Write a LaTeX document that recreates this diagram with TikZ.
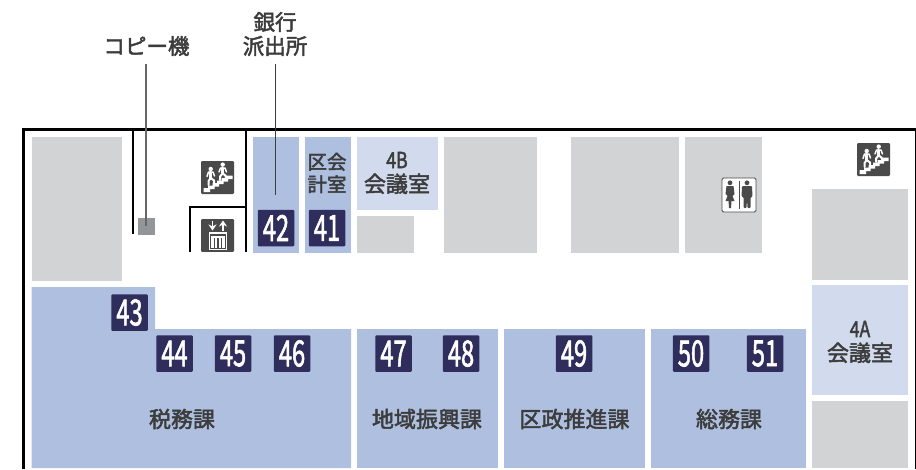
\documentclass[tikz,border=0pt]{standalone}
\usepackage{fontspec}
\setmainfont{Noto Sans CJK JP}[FakeBold=2.2]
\newfontfamily\digitfont{Noto Sans CJK JP}[FakeBold=2]
\definecolor{roomblue}{HTML}{AEBFE0}
\definecolor{roomlight}{HTML}{D2DBEE}
\definecolor{roomgrey}{HTML}{D1D3D5}
\definecolor{badgeblue}{HTML}{2E2D5C}
\definecolor{inktext}{HTML}{3C3C3C}
\definecolor{iconink}{HTML}{4A4A4A}
\definecolor{copygrey}{HTML}{939598}
\usetikzlibrary{arrows.meta}
\tikzset{
  blue room/.style={fill=roomblue,draw=none},
  light room/.style={fill=roomlight,draw=none},
  grey room/.style={fill=roomgrey,draw=none},
  wall/.style={draw=black,line width=1.6pt},
  outer wall/.style={draw=black,line width=3pt},
  badge/.style={fill=badgeblue,rounded corners=1pt,minimum width=36.5pt,minimum height=36.5pt,inner sep=0pt,text=white,font=\digitfont\fontsize{36}{36}\selectfont},
  roomlabel/.style={text=inktext,inner sep=0pt,align=center,font=\fontsize{22}{24}\selectfont},
  pics/stairicon/.style={code={
    \fill[iconink,rounded corners=1.2pt] (0,0) rectangle (33,33);
    \fill[white] (2.5,31) -- (2.5,27) -- (7,27) -- (7,24.5) -- (11.5,24.5) -- (11.5,22) -- (16,22) -- (16,19.5) -- (20.5,19.5) -- (20.5,17) -- (25,17) -- (25,14.5) -- (31.5,14.5) -- (31.5,18) -- (27,18) -- (27,20.5) -- (22.5,20.5) -- (22.5,23) -- (18,23) -- (18,25.5) -- (13.5,25.5) -- (13.5,28) -- (9,28) -- (9,31) -- cycle;
    \fill[white] (9.7,8) circle (2.2);
    \fill[white] (21.7,3.6) circle (2.2);
    \draw[white,line width=1.5pt,line cap=round,line join=round] (6,15.5) -- (7.5,11) -- (12,11) -- (13.5,15);
    \draw[white,line width=3pt,line cap=round,line join=round] (9.7,11) -- (9.7,17);
    \draw[white,line width=2pt,line cap=round,line join=round] (9.7,17) -- (7.5,20) -- (7.5,24);
    \draw[white,line width=2pt,line cap=round,line join=round] (9.7,17) -- (13,19.5) -- (13,21.5);
    \draw[white,line width=1.5pt,line cap=round,line join=round] (18,11) -- (19.5,7) -- (24,7) -- (25.5,11);
    \draw[white,line width=3pt,line cap=round,line join=round] (21.7,7) -- (21.7,12.5);
    \draw[white,line width=2pt,line cap=round,line join=round] (21.7,12.5) -- (19,15.5) -- (19,19);
    \draw[white,line width=2pt,line cap=round,line join=round] (21.7,12.5) -- (24.5,14.5) -- (24.5,16);
  }},
  pics/lifticon/.style={code={
    \fill[iconink,rounded corners=1.2pt] (0,0) rectangle (33,33);
    \draw[white,line width=1.4pt,-{Stealth[length=6pt,width=8pt]}] (11.5,1.5) -- (11.5,11.5);
    \draw[white,line width=1.4pt,-{Stealth[length=6pt,width=8pt]}] (22,11.5) -- (22,1.5);
    \draw[white,line width=1.2pt] (8.5,14) rectangle (25.5,30.5);
    \fill[white] (10,16.5) rectangle (24,18.5);
    \foreach \bx in {10,13.8,17.6,21.4} \fill[white] (\bx,18.5) rectangle ++(2.6,10);
  }},
  pics/wcicon/.style={code={
    \draw[fill=white,draw=iconink,line width=.8pt,rounded corners=1.5pt] (0,0) rectangle (34,34);
    \fill[iconink] (8,4.8) circle (2.4);
    \fill[iconink] (25,4.8) circle (2.4);
    \fill[iconink] (4.5,8) -- (11.5,8) -- (12.5,16) -- (10.5,18) -- (12.5,23) -- (9.5,23) -- (9,30) -- (7,30) -- (6.5,23) -- (3.5,23) -- (5.5,18) -- (3.5,16) -- cycle;
    \fill[iconink] (16.6,3) rectangle (18.4,30.5);
    \fill[iconink,rounded corners=1pt] (20,8) -- (30,8) -- (30.5,19) -- (28.5,19) -- (28.5,30) -- (25.5,30) -- (25,21) -- (24.5,30) -- (21.5,30) -- (21.5,19) -- (19.5,19) -- cycle;
  }}
}
\newcommand{\nar}[1]{\scalebox{.66}[1]{#1}}
\newcommand{\narl}[1]{\scalebox{.8}[1]{#1}}
\begin{document}
\begin{tikzpicture}[x=1pt,y=-1pt]
\useasboundingbox (0,0) rectangle (916,469);
% rooms
\fill[grey room] (31.5,137) rectangle (121.5,281);
\fill[blue room] (253,137) rectangle (299,253);
\fill[blue room] (305,137) rectangle (351,253);
\fill[light room] (357,137) rectangle (438,210);
\fill[grey room] (357,216) rectangle (414,253);
\fill[grey room] (444,137) rectangle (537,253);
\fill[grey room] (571,137) rectangle (679,253);
\fill[grey room] (685,137) rectangle (762,253);
\fill[grey room] (812,189) rectangle (908,280);
\fill[light room] (812,285) rectangle (908,395);
\fill[grey room] (812,401) rectangle (908,468);
\fill[blue room] (31.5,287) -- (155,287) -- (155,329) -- (351,329) -- (351,468) -- (31.5,468) -- cycle;
\fill[blue room] (357,329) rectangle (498,468);
\fill[blue room] (504,329) rectangle (645,468);
\fill[blue room] (651,329) rectangle (806,468);
% walls
\draw[wall] (133,129) -- (133,234);
\draw[wall] (246,129) -- (246,251.5);
\draw[wall] (190,251.5) -- (190,207) -- (246,207);
\draw[outer wall] (23.5,469) -- (23.5,129) -- (916,129);
\draw[draw=black,line width=1pt] (915,129) -- (915,469);
% icons
\pic at (201,161) {stairicon};
\begin{scope}
\clip (195,210) rectangle (240,251.5);
\pic at (201,219) {lifticon};
\end{scope}
\pic at (857,143) {stairicon};
\pic at (722,178) {wcicon};
% copier
\node[fill=copygrey,minimum size=17pt,inner sep=0pt] (copier) at (146.5,226.5) {};
% labels
\node[roomlabel,font=\fontsize{21.5}{24}\selectfont] (copylabel) at (146.5,46) {コピー機};
\node[roomlabel,font=\fontsize{21.5}{24}\selectfont] (banklabel) at (275,34) {銀行\\派出所};
\coordinate (copytop) at (145.5,64);
\coordinate (copyend) at (145.5,226);
\coordinate (banktop) at (275,64);
\coordinate (bankend) at (275,195);
\draw[draw=copygrey!70!black,line width=2pt] (copytop) -- (copyend);
\draw[draw=inktext,line width=.9pt] (banktop) -- (bankend);
% badges
\node[badge] (b42) at (276,228) {\nar{42}};
\node[badge] (b41) at (327,228) {\nar{41}};
\node[badge] (b43) at (129.5,312.5) {\nar{43}};
\node[badge] (b44) at (174.5,353.5) {\nar{44}};
\node[badge] (b45) at (233,353.5) {\nar{45}};
\node[badge] (b46) at (292,353.5) {\nar{46}};
\node[badge] (b47) at (393.5,353.5) {\nar{47}};
\node[badge] (b48) at (461,353.5) {\nar{48}};
\node[badge] (b49) at (574,353.5) {\nar{49}};
\node[badge] (b50) at (691,353.5) {\nar{50}};
\node[badge] (b51) at (765,353.5) {\nar{51}};
% room names
\node[roomlabel,font=\fontsize{19.5}{22.5}\selectfont] (kaikei) at (327,173) {区会\\計室};
\node[roomlabel] (r4b) at (397,173) {\narl{4B}\\会議室};
\node[roomlabel] (r4a) at (860,342) {\narl{4A}\\会議室};
\node[roomlabel] (zeimu) at (182,419) {税務課};
\node[roomlabel] (chiiki) at (427,419) {地域振興課};
\node[roomlabel] (kusei) at (574.5,419) {区政推進課};
\node[roomlabel] (soumu) at (729,419) {総務課};
\end{tikzpicture}
\end{document}
